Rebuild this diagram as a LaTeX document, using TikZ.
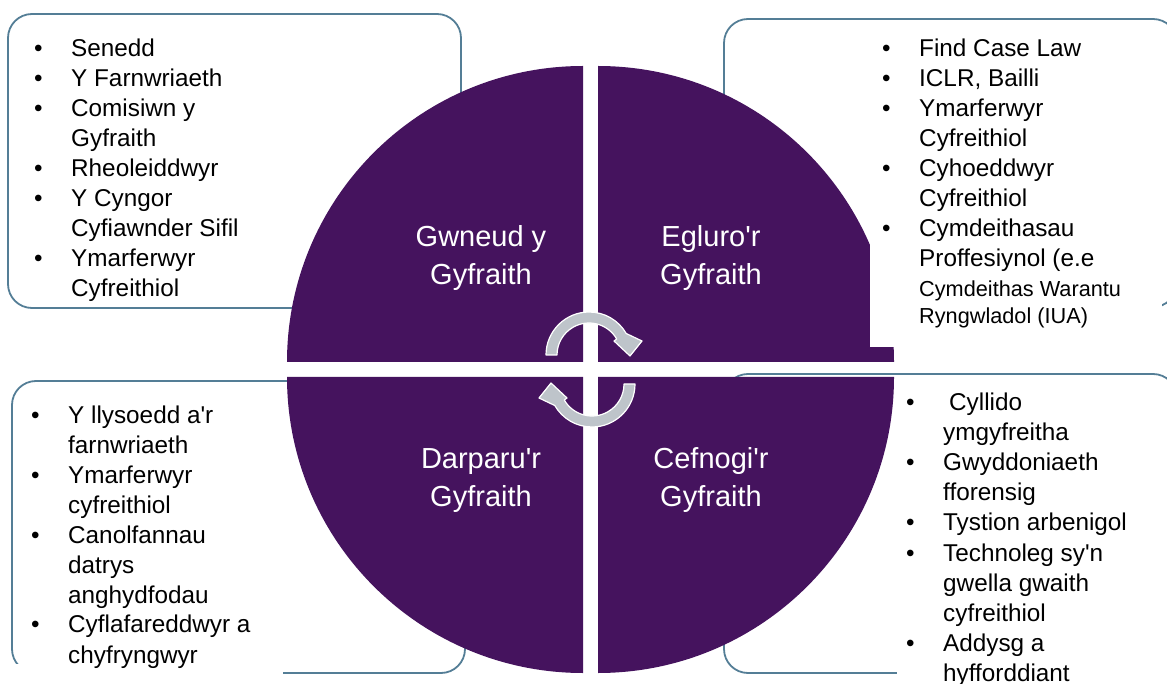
\documentclass[tikz,border=0pt]{standalone}
\usepackage{fontspec}
\setmainfont{Liberation Sans}
\usetikzlibrary{calc}
\definecolor{purp}{RGB}{69,19,94}
\definecolor{framecol}{RGB}{84,126,150}
\definecolor{arrowgray}{RGB}{190,196,202}
\newcommand\bl{\makebox[37pt][l]{•}}
\newcommand\ap{\textquotesingle}
\begin{document}
\begin{tikzpicture}[x=1pt,y=-1pt,
  boxline/.style={draw=framecol,line width=1.8pt,rounded corners=24pt},
  quad/.style={fill=purp},
  listtext/.style={anchor=base west,inner sep=0pt,text=black},
  qlabel/.style={anchor=base,inner sep=0pt,text=white,font=\fontsize{29}{38}\selectfont},
  cyc/.style={fill=arrowgray,draw=white,line width=1.2pt,line join=round}]
\useasboundingbox (0,0) rectangle (1167,684);
\clip (0,0) rectangle (1167,684);

% frames of the four lists
\draw[boxline] (8,14) rectangle (461,308);
\draw[boxline] (724,19) rectangle (1177,307);
\draw[boxline] (12,381) rectangle (465,673);
\draw[boxline] (724,374) rectangle (1177,673);

% four quadrants
\fill[quad] (583,362) -- ++(-296,0) arc[start angle=180,end angle=270,radius=296] -- cycle;
\fill[quad] (598,362) -- ++(0,-296) arc[start angle=270,end angle=360,radius=296] -- cycle;
\fill[quad] (598,377) -- ++(296,0) arc[start angle=0,end angle=90,radius=296] -- cycle;
\fill[quad] (583,377) -- ++(0,296) arc[start angle=90,end angle=180,radius=296] -- cycle;

% white text frames covering parts
\fill[white] (870,30) rectangle (1162,347);
\fill[white] (0,664) rectangle (283,684);
\fill[white] (897,386) rectangle (1167,684);

% quadrant labels
\node[qlabel] (make) at (481,247) {\begin{tabular}[t]{@{}c@{}}Gwneud y\\Gyfraith\end{tabular}};
\node[qlabel] (explain) at (711,247) {\begin{tabular}[t]{@{}c@{}}Egluro\ap r\\Gyfraith\end{tabular}};
\node[qlabel] (provide) at (481,468) {\begin{tabular}[t]{@{}c@{}}Darparu\ap r\\Gyfraith\end{tabular}};
\node[qlabel] (support) at (711,468) {\begin{tabular}[t]{@{}c@{}}Cefnogi\ap r\\Gyfraith\end{tabular}};

% lists
\node[listtext,font=\fontsize{24.3}{30}\selectfont] (listTL) at (34,57) {\begin{tabular}[t]{@{}l@{}l@{}}
\bl & Senedd\\
\bl & Y Farnwriaeth\\
\bl & Comisiwn y\\
 & Gyfraith\\
\bl & Rheoleiddwyr\\
\bl & Y Cyngor\\
 & Cyfiawnder Sifil\\
\bl & Ymarferwyr\\
 & Cyfreithiol
\end{tabular}};

\node[listtext,font=\fontsize{24.3}{30}\selectfont] (listTR) at (882,57) {\begin{tabular}[t]{@{}l@{}l@{}}
\bl & Find Case Law\\
\bl & ICLR, Bailli\\
\bl & Ymarferwyr\\
 & Cyfreithiol\\
\bl & Cyhoeddwyr\\
 & Cyfreithiol\\
\bl & Cymdeithasau\\
 & Proffesiynol (e.e\\
 & {\fontsize{21.7}{27}\selectfont Cymdeithas Warantu}\\[-3pt]
 & {\fontsize{21.7}{27}\selectfont Ryngwladol (IUA)}
\end{tabular}};

\node[listtext,font=\fontsize{24.3}{30}\selectfont] (listBL) at (31,423) {\begin{tabular}[t]{@{}l@{}l@{}}
\bl & Y llysoedd a\ap r\\
 & farnwriaeth\\
\bl & Ymarferwyr\\
 & cyfreithiol\\
\bl & Canolfannau\\
 & datrys\\
 & anghydfodau\\
\bl & Cyflafareddwyr a\\
 & chyfryngwyr
\end{tabular}};

\node[listtext,font=\fontsize{24.3}{30.2}\selectfont] (listBR) at (906,410) {\begin{tabular}[t]{@{}l@{}l@{}}
\bl & \hspace*{6pt}Cyllido\\
 & ymgyfreitha\\
\bl & Gwyddoniaeth\\
 & fforensig\\
\bl & Tystion arbenigol\\
\bl & Technoleg sy\ap n\\
 & gwella gwaith\\
 & cyfreithiol\\
\bl & Addysg a\\
 & hyfforddiant
\end{tabular}};

% cycle arrows in the centre
\coordinate (C1) at (589,355);
\coordinate (C2) at (592,384);
\draw[cyc] ($(C1)+(180:43)$) arc[start angle=180,end angle=330,radius=43]
  -- ($(C1)+(53,-14)$) -- ($(C1)+(41,1)$) -- ($(C1)+(25,-14)$)
  -- ($(C1)+(330:32)$) arc[start angle=330,end angle=180,radius=32] -- cycle;
\draw[cyc] ($(C2)+(0:43)$) arc[start angle=0,end angle=150,radius=43]
  -- ($(C2)+(-53,14)$) -- ($(C2)+(-41,-1)$) -- ($(C2)+(-25,14)$)
  -- ($(C2)+(150:32)$) arc[start angle=150,end angle=0,radius=32] -- cycle;
\end{tikzpicture}
\end{document}
